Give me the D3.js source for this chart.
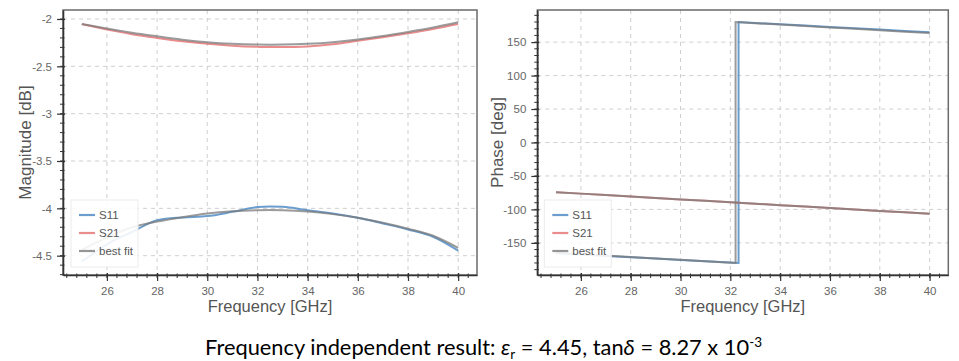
<!DOCTYPE html>
<html><head><meta charset="utf-8">
<script src="https://cdn.jsdelivr.net/npm/d3@7"></script>
<style>
html,body{margin:0;padding:0;background:#fff;}
svg{display:block;}
</style></head>
<body>
<svg id="c" width="959" height="361"></svg>
<script>
// ---------- DATA ----------
const freqTicks = [26, 28, 30, 32, 34, 36, 38, 40];
const magTicks = [-2, -2.5, -3, -3.5, -4, -4.5];
const phaseTicks = [150, 100, 50, 0, -50, -100, -150];

const magFreq = [25, 25.5, 26, 26.5, 27, 28, 29, 30, 31, 32, 32.5, 33, 34, 35, 36, 37, 38, 39, 40];
const magS11 = [-4.56, -4.47, -4.38, -4.31, -4.25, -4.125, -4.096, -4.082, -4.037, -3.987, -3.980, -3.984, -4.019, -4.054, -4.100, -4.160, -4.223, -4.300, -4.447];
const magS11Fit = [-4.44, -4.37, -4.31, -4.25, -4.20, -4.140, -4.093, -4.054, -4.030, -4.019, -4.017, -4.019, -4.033, -4.061, -4.100, -4.153, -4.216, -4.290, -4.418];
const magS21 = [-2.055, -2.083, -2.110, -2.136, -2.160, -2.200, -2.235, -2.262, -2.282, -2.294, -2.297, -2.297, -2.290, -2.268, -2.230, -2.192, -2.151, -2.105, -2.052];
const magS21Fit = [-2.052, -2.077, -2.100, -2.123, -2.145, -2.183, -2.218, -2.245, -2.262, -2.270, -2.271, -2.270, -2.262, -2.245, -2.217, -2.180, -2.137, -2.090, -2.035];

const phFreqS11 = [25, 26, 27, 28, 29, 30, 31, 32, 32.33, 32.33, 33, 34, 35, 36, 37, 38, 39, 40];
const phS11 = [-165.5, -167.5, -169.5, -171.5, -173.5, -175.5, -177.5, -179.4, -180, 180, 178.7, 176.7, 174.7, 172.7, 170.7, 168.7, 166.7, 164.8];
const phFreqS11Fit = [25, 26, 27, 28, 29, 30, 31, 32, 32.21, 32.21, 33, 34, 35, 36, 37, 38, 39, 40];
const phS11Fit = [-164.7, -166.8, -168.9, -171.1, -173.2, -175.3, -177.4, -179.6, -180, 180, 178.3, 176.2, 174.1, 172.0, 169.9, 167.8, 165.6, 163.5];
const phFreqS21 = [25, 26, 27, 28, 29, 30, 31, 32, 33, 34, 35, 36, 37, 38, 39, 40];
const phS21 = [-74.3, -76.4, -78.6, -80.7, -82.9, -85.0, -87.2, -89.3, -91.5, -93.6, -95.8, -97.9, -100.1, -102.2, -104.4, -106.5];
const phS21Fit = [-74.2, -76.4, -78.5, -80.7, -82.8, -85.0, -87.1, -89.3, -91.4, -93.6, -95.7, -97.9, -100.0, -102.2, -104.3, -106.5];

const legendLabels = ["S11", "S21", "best fit"];
const colors = {S11: "#5b93c9", S21: "#e06666", fit: "#7a7a7a"};

// ---------- DRAW ----------
const svg = d3.select("#c");
const FONT = "'Liberation Sans', Arial, Helvetica, sans-serif";

function panel(opt) {
  const {x0, x1, y0, y1, yDomain, yTicks, yLabel, labelX, series, legendX, minorY} = opt;
  const x = d3.scaleLinear().domain([24.25, 40.75]).range([x0, x1]);
  const y = d3.scaleLinear().domain(yDomain).range([y1, y0]);
  const g = svg.append("g");

  // grid
  g.append("g").selectAll("line").data(freqTicks).join("line")
    .attr("x1", d => x(d)).attr("x2", d => x(d)).attr("y1", y0).attr("y2", y1)
    .attr("stroke", "#cfcfcf").attr("stroke-dasharray", "4,4").attr("stroke-width", 1);
  g.append("g").selectAll("line").data(yTicks).join("line")
    .attr("y1", d => y(d)).attr("y2", d => y(d)).attr("x1", x0).attr("x2", x1)
    .attr("stroke", "#cfcfcf").attr("stroke-dasharray", "4,4").attr("stroke-width", 1);

  // lines
  const clipId = "clip" + Math.round(x0);
  svg.append("clipPath").attr("id", clipId).append("rect")
    .attr("x", x0).attr("y", y0).attr("width", x1 - x0).attr("height", y1 - y0);
  const lg = g.append("g").attr("clip-path", `url(#${clipId})`);
  series.forEach(s => {
    const pts = s.xs.map((f, i) => [f, s.ys[i]]);
    const line = d3.line().x(d => x(d[0])).y(d => y(d[1]));
    if (s.curve) line.curve(d3.curveMonotoneX);
    lg.append("path").attr("d", line(pts)).attr("fill", "none")
      .attr("stroke", s.color).attr("stroke-width", 2).attr("stroke-opacity", s.opacity);
  });

  // outline
  g.append("rect").attr("x", x0).attr("y", y0).attr("width", x1 - x0).attr("height", y1 - y0)
    .attr("fill", "none").attr("stroke", "#6a6a6a").attr("stroke-width", 1.5);

  // axes
  const xAxis = d3.axisBottom(x).tickValues(freqTicks).tickSizeInner(6).tickSizeOuter(0).tickPadding(6)
    .tickFormat(d => String(d));
  const xa = g.append("g").attr("transform", `translate(0,${y1})`).call(xAxis);
  const minorX = d3.range(24.4, 40.75, 0.4);
  xa.selectAll(".minor").data(minorX).join("line").attr("class", "minor")
    .attr("x1", d => x(d)).attr("x2", d => x(d)).attr("y1", -1.5).attr("y2", 3)
    .attr("stroke", "#333").attr("stroke-width", 1);
  const yAxis = d3.axisLeft(y).tickValues(yTicks).tickSizeInner(6).tickSizeOuter(0).tickPadding(5)
    .tickFormat(d => String(d));
  const ya = g.append("g").attr("transform", `translate(${x0},0)`).call(yAxis);
  ya.selectAll(".minor").data(minorY).join("line").attr("class", "minor")
    .attr("y1", d => y(d)).attr("y2", d => y(d)).attr("x1", 1.5).attr("x2", -3)
    .attr("stroke", "#333").attr("stroke-width", 1);
  [xa, ya].forEach(a => {
    a.select(".domain").attr("stroke", "#333").attr("stroke-width", 1.6);
    a.selectAll(".tick line").attr("stroke", "#333").attr("stroke-width", 1.2);
    a.selectAll(".tick text").attr("fill", "#666").attr("font-size", 11.5).attr("font-family", FONT);
  });
  ya.selectAll(".tick line").attr("x2", -6).attr("x1", 2);
  xa.selectAll(".tick line").attr("y1", -2).attr("y2", 6);

  // axis labels
  g.append("text").attr("x", (x0 + x1) / 2).attr("y", 312).attr("text-anchor", "middle")
    .attr("font-family", FONT).attr("font-size", 16.5).attr("fill", "#555").text("Frequency [GHz]");
  g.append("text").attr("transform", `translate(${labelX},${(y0 + y1) / 2}) rotate(-90)`)
    .attr("text-anchor", "middle").attr("font-family", FONT).attr("font-size", 17)
    .attr("fill", "#555").text(yLabel);

  // legend
  const L = g.append("g").attr("transform", `translate(${legendX},200)`);
  L.append("rect").attr("width", 67).attr("height", 67).attr("fill", "#fff").attr("fill-opacity", 0.88)
    .attr("stroke", "#ececec").attr("stroke-width", 1);
  const lc = [colors.S11, colors.S21, colors.fit];
  const lo = [0.9, 0.75, 0.8];
  legendLabels.forEach((t, i) => {
    const yy = 15 + i * 18;
    L.append("line").attr("x1", 8).attr("x2", 24).attr("y1", yy).attr("y2", yy)
      .attr("stroke", lc[i]).attr("stroke-width", 2.2).attr("stroke-opacity", lo[i]);
    L.append("text").attr("x", 28).attr("y", yy + 4).attr("font-family", FONT)
      .attr("font-size", 11.5).attr("fill", "#555").text(t);
  });
}

panel({
  x0: 63, x1: 477, y0: 10, y1: 275,
  yDomain: [-4.704, -1.905], yTicks: magTicks, yLabel: "Magnitude [dB]", labelX: 31,
  legendX: 71,
  minorY: d3.range(-4.7, -1.9, 0.1),
  series: [
    {xs: magFreq, ys: magS11, color: colors.S11, opacity: 0.9, curve: true},
    {xs: magFreq, ys: magS21, color: colors.S21, opacity: 0.75, curve: true},
    {xs: magFreq, ys: magS11Fit, color: colors.fit, opacity: 0.75, curve: true},
    {xs: magFreq, ys: magS21Fit, color: colors.fit, opacity: 0.75, curve: true}
  ]
});

panel({
  x0: 537.3, x1: 948.3, y0: 10, y1: 275,
  yDomain: [-198, 198], yTicks: phaseTicks, yLabel: "Phase [deg]", labelX: 503,
  legendX: 544.3,
  minorY: d3.range(-190, 198, 10),
  series: [
    {xs: phFreqS11, ys: phS11, color: colors.S11, opacity: 0.9, curve: false},
    {xs: phFreqS21, ys: phS21, color: colors.S21, opacity: 0.75, curve: false},
    {xs: phFreqS11Fit, ys: phS11Fit, color: colors.fit, opacity: 0.75, curve: false},
    {xs: phFreqS21, ys: phS21Fit, color: colors.fit, opacity: 0.75, curve: false}
  ]
});

// caption
const cap = svg.append("text").attr("x", 205).attr("y", 355)
  .attr("textLength", 557).attr("lengthAdjust", "spacingAndGlyphs")
  .attr("font-family", "Lato, 'Open Sans', sans-serif").attr("font-size", 21).attr("fill", "#000");
cap.append("tspan").text("Frequency independent result: ");
cap.append("tspan").attr("font-style", "italic").text("ε");
cap.append("tspan").attr("font-size", 13).attr("dy", 4).text("r");
cap.append("tspan").attr("dy", -4).text(" = 4.45, tan");
cap.append("tspan").attr("font-style", "italic").text("δ");
cap.append("tspan").text(" = 8.27 x 10");
cap.append("tspan").attr("font-size", 13).attr("dy", -8).text("-3");
</script>
</body></html>
